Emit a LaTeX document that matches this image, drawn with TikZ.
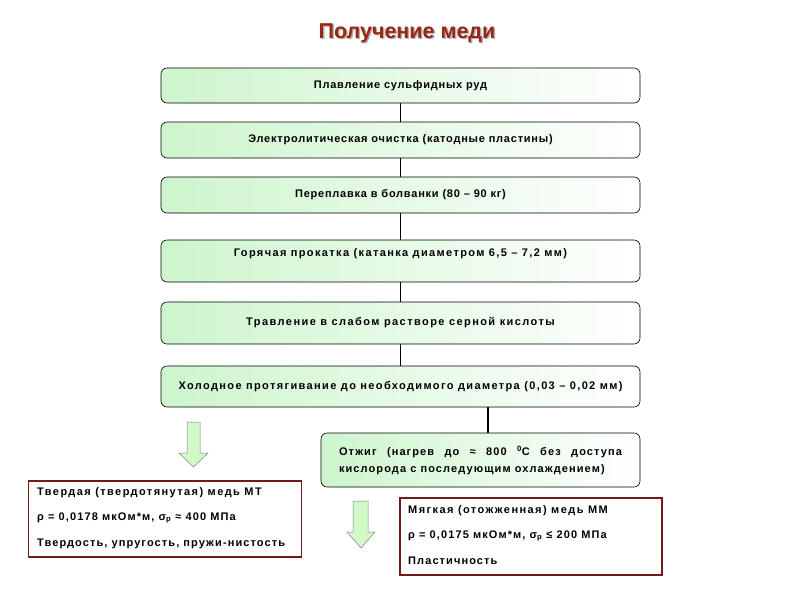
\documentclass[tikz,border=0pt]{standalone}
\usepackage{fontspec}
\setmainfont{Liberation Sans}
\definecolor{boxgreen}{RGB}{205,245,205}
\definecolor{arrgreen}{RGB}{210,250,200}
\definecolor{titlered}{RGB}{150,40,20}
\definecolor{frame}{RGB}{115,25,25}
\newcommand{\lsp}[1]{\addfontfeatures{LetterSpace=#1}}
\tikzset{
  stepbox/.style={draw=black, line width=0.6pt, rounded corners=6pt, left color=boxgreen, right color=white,
    minimum width=479pt, inner sep=0pt, font=\fontsize{11}{13}\selectfont\bfseries, text=black},
  link/.style={draw=black, line width=1.2pt},
  resbox/.style={draw=frame, line width=1.8pt, fill=white, inner sep=0pt},
  restext/.style={anchor=west, font=\fontsize{11}{13}\selectfont\bfseries\lsp{10}, inner sep=0pt},
  hollow/.style={draw=gray, line width=0.5pt, fill=arrgreen},
}
\begin{document}
\begin{tikzpicture}[x=1pt,y=-1pt]
\useasboundingbox (0,0) rectangle (800,600);
\fill[white] (0,0) rectangle (800,600);
% title
\node[font=\fontsize{21.5}{24}\selectfont\bfseries, text=gray!60] at (408.5,34.5) {Получение меди};
\node (title) [font=\fontsize{21.5}{24}\selectfont\bfseries, text=titlered] at (407,33) {Получение меди};
% process boxes
\node (b1) [stepbox, minimum height=35pt] at (400.5,85.5) {\lsp{7}Плавление сульфидных руд};
\node (b2) [stepbox, minimum height=36pt] at (400.5,140) {\lsp{7}Электролитическая очистка (катодные пластины)};
\node (b3) [stepbox, minimum height=36pt] at (400.5,195) {\lsp{7}Переплавка в болванки (80 – 90 кг)};
\node (b4) [stepbox, minimum height=42pt] at (400.5,261) {};
\node at (400.5,254) [font=\fontsize{11}{13}\selectfont\bfseries\lsp{12.5}] {Горячая прокатка (катанка диаметром 6,5 – 7,2 мм)};
\node (b5) [stepbox, minimum height=42pt] at (400.5,323) {\lsp{13}Травление в слабом растворе серной кислоты};
\node (b6) [stepbox, minimum height=41pt] at (400.5,386.5) {\lsp{12.5}Холодное протягивание до необходимого диаметра (0,03 – 0,02 мм)};
\node (otz) [stepbox, minimum width=319pt, minimum height=54pt, align=justify, text width=283pt,
  font=\fontsize{11}{17}\selectfont\bfseries] at (480.5,460)
  {\lsp{10}Отжиг (нагрев до ≈ 800 \textsuperscript{0}C без доступа\linebreak кислорода с последующим охлаждением)};
% connectors
\draw[link] (b1.south) -- (b2.north);
\draw[link] (b2.south) -- (b3.north);
\draw[link] (b3.south) -- (b4.north);
\draw[link] (b4.south) -- (b5.north);
\draw[link] (b5.south) -- (b6.north);
\draw[link] ([xshift=7.5pt]b6.south -| otz.north) -- ([xshift=7.5pt]otz.north);
% hollow arrows
\draw[hollow] (187,422) -- (200,422) -- (200,453) -- (208,453) -- (193.5,467) -- (179,453) -- (187,453) -- cycle;
\draw[hollow] (353,501) -- (368,501) -- (368,532) -- (375,532) -- (361,548) -- (347,532) -- (353,532) -- cycle;
% result boxes
\node (hard) [resbox, minimum width=273pt, minimum height=76pt] at (165,519) {};
\node[restext] at (37,493) {\lsp{13}Твердая (твердотянутая) медь МТ};
\node[restext] at (37,518) {ρ = 0,0178 мкОм*м, σ\textsubscript{р} ≈ 400 МПа};
\node[restext] at (37,544) {Твердость, упругость, пружи-нистость};
\node (soft) [resbox, minimum width=262pt, minimum height=77pt] at (531,536.5) {};
\node[restext] at (408,511) {\lsp{13}Мягкая (отожженная) медь ММ};
\node[restext] at (408,536) {ρ = 0,0175 мкОм*м, σ\textsubscript{р} ≤ 200 МПа};
\node[restext] at (408,561) {Пластичность};
\end{tikzpicture}
\end{document}
